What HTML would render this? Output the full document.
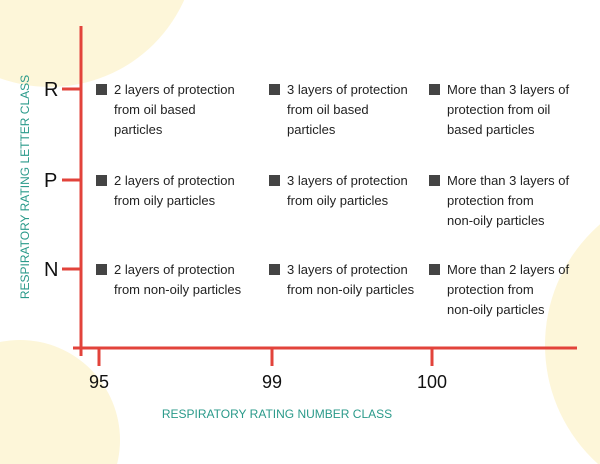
<!DOCTYPE html>
<html style="overflow:hidden"><head><meta charset="utf-8"><style>
html,body{margin:0;width:600px;height:464px;overflow:hidden;background:#fff;font-family:"Liberation Sans",sans-serif}
svg{display:block}
</style></head><body>
<svg width="600" height="464">
<circle cx="50" cy="-60" r="147" fill="#fdf6d9"/>
<circle cx="20" cy="440" r="100" fill="#fdf6d9"/>
<circle cx="705" cy="345" r="160" fill="#fdf6d9"/>
<g id="chart"></g>
</svg>
<script>
const letters=["R","P","N"];
const numbers=["95","99","100"];
const cells=[
[["2 layers of protection","from oil based","particles"],["3 layers of protection","from oil based","particles"],["More than 3 layers of","protection from oil","based particles"]],
[["2 layers of protection","from oily particles"],["3 layers of protection","from oily particles"],["More than 3 layers of","protection from","non-oily particles"]],
[["2 layers of protection","from non-oily particles"],["3 layers of protection","from non-oily particles"],["More than 2 layers of","protection from","non-oily particles"]]];
const yPos=[89,180,269], xPos=[99,272,432];
const g=document.getElementById('chart'),NS="http://www.w3.org/2000/svg";
function mk(t,a,txt){const e=document.createElementNS(NS,t);for(const k in a)e.setAttribute(k,a[k]);if(txt!=null)e.textContent=txt;g.appendChild(e);return e;}
const red="#e2433b";
let e=mk('line',{x1:81,y1:26,x2:81,y2:356,stroke:red,'stroke-width':3});

e=mk('line',{x1:73,y1:348,x2:577,y2:348,stroke:red,'stroke-width':3});

letters.forEach((l,i)=>{
 let t=mk('line',{x1:62,y1:yPos[i],x2:81,y2:yPos[i],stroke:red,'stroke-width':3});
 
 t=mk('text',{x:44,y:yPos[i]+7,'font-size':20,fill:'#111'},l);
 
});
numbers.forEach((n,i)=>{
 let t=mk('line',{x1:xPos[i],y1:348,x2:xPos[i],y2:366,stroke:red,'stroke-width':3});
 
 t=mk('text',{x:xPos[i],y:388,'font-size':18,fill:'#111','text-anchor':'middle'},n);
 
});
cells.forEach((row,r)=>row.forEach((lines,c)=>{
 const x=xPos[c]-3, y=yPos[r];
 let s=mk('rect',{x:x,y:y-5,width:11,height:11,fill:'#444'});
 
 const t=mk('text',{x:x+18,y:y+5,'font-size':13,fill:'#222'});
 
 lines.forEach((ln,k)=>{const sp=document.createElementNS(NS,'tspan');sp.setAttribute('x',x+18);sp.setAttribute('y',y+5+k*20);sp.textContent=ln;t.appendChild(sp);});
}));
e=mk('text',{x:0,y:0,'font-size':12,fill:'#2a9a8a','text-anchor':'middle',transform:'translate(29,187) rotate(-90)'},'RESPIRATORY RATING LETTER CLASS');

e=mk('text',{x:277,y:418,'font-size':12,fill:'#2a9a8a','text-anchor':'middle'},'RESPIRATORY RATING NUMBER CLASS');

</script>
</body></html>
